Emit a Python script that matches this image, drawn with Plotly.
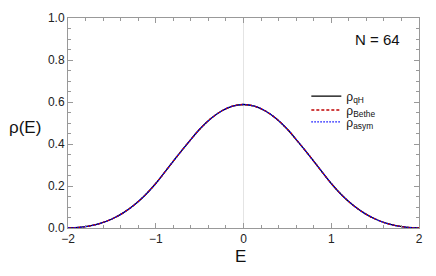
import plotly.graph_objects as go

E_vals = [-2.0, -1.875, -1.75, -1.625, -1.5, -1.375, -1.25, -1.125, -1.0, -0.875, -0.75, -0.625, -0.5, -0.375, -0.25, -0.125,
          0.0, 0.125, 0.25, 0.375, 0.5, 0.625, 0.75, 0.875, 1.0, 1.125, 1.25, 1.375, 1.5, 1.625, 1.75, 1.875, 2.0]
rho_right = [0.588, 0.580, 0.557, 0.520, 0.470, 0.409, 0.345, 0.278, 0.212, 0.155, 0.108, 0.071, 0.043, 0.023, 0.010, 0.003, 0.0]
rho_qH = rho_right[::-1][:-1] + rho_right
rho_Bethe = list(rho_qH)
rho_asym = list(rho_qH)

x_ticks = [-2, -1, 0, 1, 2]
x_tick_text = ["−2", "−1", "0", "1", "2"]
y_ticks = [0.0, 0.2, 0.4, 0.6, 0.8, 1.0]
y_tick_text = ["0.0", "0.2", "0.4", "0.6", "0.8", "1.0"]

font_family = "Liberation Sans, Arial, sans-serif"

fig = go.Figure()
fig.add_trace(go.Scatter(x=E_vals, y=rho_qH, mode="lines", line=dict(color="black", width=1.3, shape="spline"),
                         name="ρ<sub>qH</sub>", legend="legend"))
fig.add_trace(go.Scatter(x=E_vals, y=rho_Bethe, mode="lines", line=dict(color="#c00000", width=1.3, dash="3px,2px", shape="spline"),
                         name="ρ<sub>Bethe</sub>", legend="legend2"))
fig.add_trace(go.Scatter(x=E_vals, y=rho_asym, mode="lines", line=dict(color="#0000ff", width=1.3, dash="1.5px,1.5px", shape="spline"),
                         name="ρ<sub>asym</sub>", legend="legend3"))

axis_common = dict(
    showline=True, linecolor="#999999", linewidth=1, mirror="ticks",
    ticks="inside", ticklen=5, tickcolor="#999999", tickwidth=1,
    showgrid=False, tickfont=dict(family=font_family, size=12, color="#222222"),
)
fig.update_xaxes(range=[-2, 2], tickvals=x_ticks, ticktext=x_tick_text,
                 zeroline=True, zerolinecolor="#e4e4e4", zerolinewidth=1,
                 minor=dict(ticks="inside", ticklen=3, tickcolor="#999999", dtick=0.2, showgrid=False),
                 **axis_common)
fig.update_yaxes(range=[0, 1], tickvals=y_ticks, ticktext=y_tick_text, zeroline=False,
                 minor=dict(ticks="inside", ticklen=3, tickcolor="#999999", dtick=0.05, showgrid=False),
                 **axis_common)

fig.add_annotation(text="ρ(E)", xref="paper", yref="paper", x=-0.122, y=0.479, showarrow=False,
                   font=dict(family=font_family, size=17, color="#111111"), xanchor="center", yanchor="middle")
fig.add_annotation(text="E", xref="paper", yref="paper", x=0.492, y=-0.138, showarrow=False,
                   font=dict(family=font_family, size=17, color="#111111"), xanchor="center", yanchor="middle")
fig.add_annotation(text="N = 64", xref="paper", yref="paper", x=0.883, y=0.899, showarrow=False,
                   font=dict(family=font_family, size=15, color="#111111"), xanchor="center", yanchor="middle")

leg_common = dict(xanchor="left", yanchor="middle", bgcolor="rgba(0,0,0,0)", borderwidth=0,
                  font=dict(family=font_family, size=12, color="#111111"), itemwidth=30)
leg_x = 0.679

fig.update_layout(
    width=436, height=276,
    margin=dict(l=68, r=17, t=11, b=48),
    paper_bgcolor="white", plot_bgcolor="white",
    showlegend=True,
    legend=dict(x=leg_x, y=0.628, **leg_common),
    legend2=dict(x=leg_x, y=0.562, **leg_common),
    legend3=dict(x=leg_x, y=0.505, **leg_common),
)

fig.write_html("out.html", config={"displayModeBar": False},
               post_script="document.body.style.margin='0';")
